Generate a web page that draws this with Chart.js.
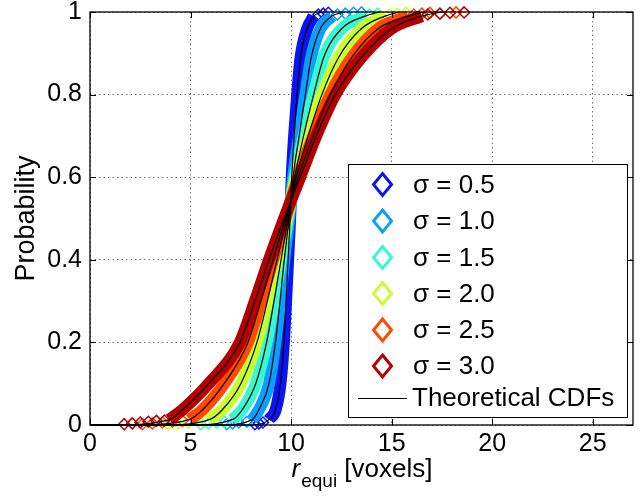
<!DOCTYPE html>
<html>
<head>
<meta charset="utf-8">
<script src="https://cdn.jsdelivr.net/npm/chart.js@4.4.0/dist/chart.umd.min.js"></script>
<style>
  html, body { margin: 0; padding: 0; background: #fff; }
  #wrap { width: 640px; height: 499px; }
</style>
</head>
<body>
<div id="wrap"><canvas id="cdf" width="640" height="499"></canvas></div>
<script>
// sigma labels and colours (jet-like)
const sigmas = ['0.5', '1.0', '1.5', '2.0', '2.5', '3.0'];
const colors = ['#0a14f5', '#0aa0ff', '#38f8d2', '#c8ff32', '#ff4800', '#b40000'];

const probs = [0, 0.013, 0.037, 0.1, 0.2, 0.3, 0.4, 0.5, 0.6, 0.7, 0.8, 0.89, 0.96, 0.99, 1];

// r_equi at each probability level, one list per sigma
const rSig05 = [8.0, 8.9, 9.23, 9.47, 9.64, 9.75, 9.85, 9.95, 10.03, 10.15, 10.3, 10.47, 10.8, 11.12, 11.5];
const rSig10 = [6.5, 8.07, 8.4, 8.9, 9.22, 9.45, 9.66, 9.9, 10.1, 10.4, 10.71, 11.0, 11.46, 12.03, 12.7];
const rSig15 = [5.0, 7.08, 7.57, 8.24, 8.78, 9.15, 9.5, 9.85, 10.18, 10.62, 11.12, 11.62, 12.52, 13.68, 14.4];
const rSig20 = [3.5, 5.93, 6.58, 7.5, 8.3, 8.82, 9.3, 9.78, 10.25, 10.85, 11.53, 12.36, 13.5, 14.67, 15.4];
const rSig25 = [2.0, 4.94, 5.6, 6.67, 7.85, 8.5, 9.1, 9.72, 10.35, 11.1, 11.95, 13.02, 14.34, 15.83, 16.6];
const rSig30 = [1.0, 3.95, 4.6, 5.9, 7.45, 8.2, 8.9, 9.65, 10.45, 11.25, 12.2, 13.5, 15.0, 16.5, 17.5];
const rTheory = [rSig05, rSig10, rSig15, rSig20, rSig25, rSig30];

// sparse samples in the tails (single diamonds)
const lowTailP = [0.002, 0.004, 0.006, 0.008, 0.010, 0.011];
const lowTailX = [
  [8.2, 8.4, 8.6],
  [6.8, 7.1, 7.4, 7.8],
  [5.5, 5.9, 6.3, 6.7],
  [3.9, 4.4, 4.9, 5.4, 5.8],
  [2.6, 3.1, 3.6, 4.1, 4.6],
  [1.7, 2.1, 2.5, 2.9, 3.3, 3.7]
];
const highTailP = [0.994, 0.996, 0.998, 0.999];
const highTailX = [
  [11.35, 11.6, 11.85],
  [12.3, 12.7, 13.1, 13.5],
  [13.9, 14.3],
  [14.9, 15.3, 15.7],
  [16.1, 16.5, 16.9, 18.2],
  [16.8, 17.4, 17.9, 18.6]
];

const xTicks = [0, 5, 10, 15, 20, 25];
const yTicks = [0, 0.2, 0.4, 0.6, 0.8, 1];
const legendTheory = 'Theoretical CDFs';

const FONT = "'Liberation Sans', Arial, Helvetica, sans-serif";

const datasets = [];
rTheory.forEach((xs, i) => {
  const pts = xs.map((x, k) => ({x: x, y: probs[k]}));
  pts.unshift({x: 0, y: 0}); // theoretical curves start at the origin
  datasets.push({
    data: pts, borderColor: '#000', borderWidth: 1.2, pointRadius: 0,
    cubicInterpolationMode: 'monotone', order: 0, clip: 10
  });
});

rTheory.forEach((xs, i) => {
  const band = xs.slice(1, xs.length - 1).map((x, k) => ({x: x, y: probs[k + 1]}));
  datasets.push({
    data: band, borderColor: colors[i], borderWidth: 12, pointRadius: 0,
    cubicInterpolationMode: 'monotone', order: 7 - i, clip: 10
  });
  const tails = lowTailX[i].map((x, k) => ({x: x, y: lowTailP[k]}))
    .concat(highTailX[i].map((x, k) => ({x: x, y: highTailP[k]})));
  datasets.push({
    data: tails, showLine: false, pointStyle: 'rectRot', pointRadius: 5.5,
    pointBorderColor: colors[i], pointBackgroundColor: 'rgba(0,0,0,0)', pointBorderWidth: 1.5,
    order: 6.5 - i, clip: 10
  });
});

const frame = {
  id: 'frame',
  afterDatasetsDraw(chart) {
    const {ctx, chartArea: a, scales: {x, y}} = chart;
    ctx.save();
    ctx.strokeStyle = '#000';
    ctx.lineWidth = 1.3;
    ctx.strokeRect(a.left, a.top, a.right - a.left, a.bottom - a.top);
    ctx.lineWidth = 1;
    ctx.beginPath();
    xTicks.forEach(v => {
      const px = Math.round(x.getPixelForValue(v)) + 0.5;
      ctx.moveTo(px, a.bottom); ctx.lineTo(px, a.bottom - 6);
      ctx.moveTo(px, a.top); ctx.lineTo(px, a.top + 6);
    });
    yTicks.forEach(v => {
      const py = Math.round(y.getPixelForValue(v)) + 0.5;
      ctx.moveTo(a.left, py); ctx.lineTo(a.left + 6, py);
      ctx.moveTo(a.right, py); ctx.lineTo(a.right - 6, py);
    });
    ctx.stroke();

    // legend box
    const bx = 348.5, by = 164.5, bw = 279, bh = 253;
    ctx.fillStyle = '#fff';
    ctx.fillRect(bx, by, bw, bh);
    ctx.strokeRect(bx, by, bw, bh);
    ctx.font = '26px ' + FONT;
    ctx.textBaseline = 'middle';
    ctx.textAlign = 'left';
    const rows = [184.5, 221, 257.5, 293.5, 330, 366];
    sigmas.forEach((s, i) => {
      const cx = 382.5, cy = rows[i];
      ctx.beginPath();
      ctx.moveTo(cx, cy - 11); ctx.lineTo(cx + 9, cy);
      ctx.lineTo(cx, cy + 11); ctx.lineTo(cx - 9, cy); ctx.closePath();
      ctx.strokeStyle = colors[i]; ctx.lineWidth = 3;
      ctx.stroke();
      ctx.fillStyle = '#000';
      ctx.fillText('\u03c3 = ' + s, 413, cy + 1);
    });
    ctx.strokeStyle = '#000'; ctx.lineWidth = 1;
    ctx.beginPath(); ctx.moveTo(358, 398.5); ctx.lineTo(407, 398.5); ctx.stroke();
    ctx.fillText(legendTheory, 412, 399);
    ctx.restore();
  },
  afterDraw(chart) {
    const {ctx, chartArea: a} = chart;
    ctx.save();
    ctx.fillStyle = '#000';
    // y title
    ctx.font = '27px ' + FONT;
    ctx.translate(27, (a.top + a.bottom) / 2);
    ctx.rotate(-Math.PI / 2);
    ctx.textAlign = 'center';
    ctx.textBaseline = 'middle';
    ctx.fillText('Probability', 0, 0);
    ctx.restore();
    // x title with subscript
    ctx.save();
    ctx.fillStyle = '#000';
    ctx.textBaseline = 'alphabetic';
    ctx.textAlign = 'left';
    const f1 = 'italic 26px ' + FONT, f2 = '19px ' + FONT, f3 = '26px ' + FONT;
    ctx.font = f1; const w1 = ctx.measureText('r').width;
    ctx.font = f2; const w2 = ctx.measureText('equi').width;
    ctx.font = f3; const w3 = ctx.measureText(' [voxels]').width;
    let sx = (a.left + a.right) / 2 - (w1 + w2 + w3) / 2;
    const base = 477;
    ctx.font = f1; ctx.fillText('r', sx, base); sx += w1 + 1;
    ctx.font = f2; ctx.fillText('equi', sx, base + 10); sx += w2;
    ctx.font = f3; ctx.fillText(' [voxels]', sx, base);
    ctx.restore();
  }
};

const noPad = s => { s.paddingTop = 0; s.paddingBottom = 0; s.paddingLeft = 0; s.paddingRight = 0; };

new Chart(document.getElementById('cdf'), {
  type: 'line',
  data: {datasets: datasets},
  options: {
    responsive: false,
    animation: false,
    devicePixelRatio: 1,
    layout: {padding: {left: 0, right: 3, top: 12, bottom: 0}},
    plugins: {legend: {display: false}, tooltip: {enabled: false}},
    scales: {
      x: {
        type: 'linear', min: 0, max: 27,
        afterBuildTicks: s => { s.ticks = xTicks.map(v => ({value: v})); },
        afterFit: s => { s.height = 74; noPad(s); },
        grid: {color: 'rgba(0,0,0,0.55)', lineWidth: 1, drawTicks: false},
        border: {display: false, dash: [1.5, 3]},
        ticks: {color: '#000', padding: 7, font: {family: FONT, size: 25, lineHeight: 1}, maxRotation: 0}
      },
      y: {
        type: 'linear', min: 0, max: 1,
        afterBuildTicks: s => { s.ticks = yTicks.map(v => ({value: v})); },
        afterFit: s => { s.width = 90; noPad(s); },
        grid: {color: 'rgba(0,0,0,0.55)', lineWidth: 1, drawTicks: false},
        border: {display: false, dash: [1.5, 3]},
        ticks: {color: '#000', padding: 8, font: {family: FONT, size: 25, lineHeight: 1},
          callback: v => String(Math.round(v * 10) / 10)}
      }
    }
  },
  plugins: [frame]
});
</script>
</body>
</html>
